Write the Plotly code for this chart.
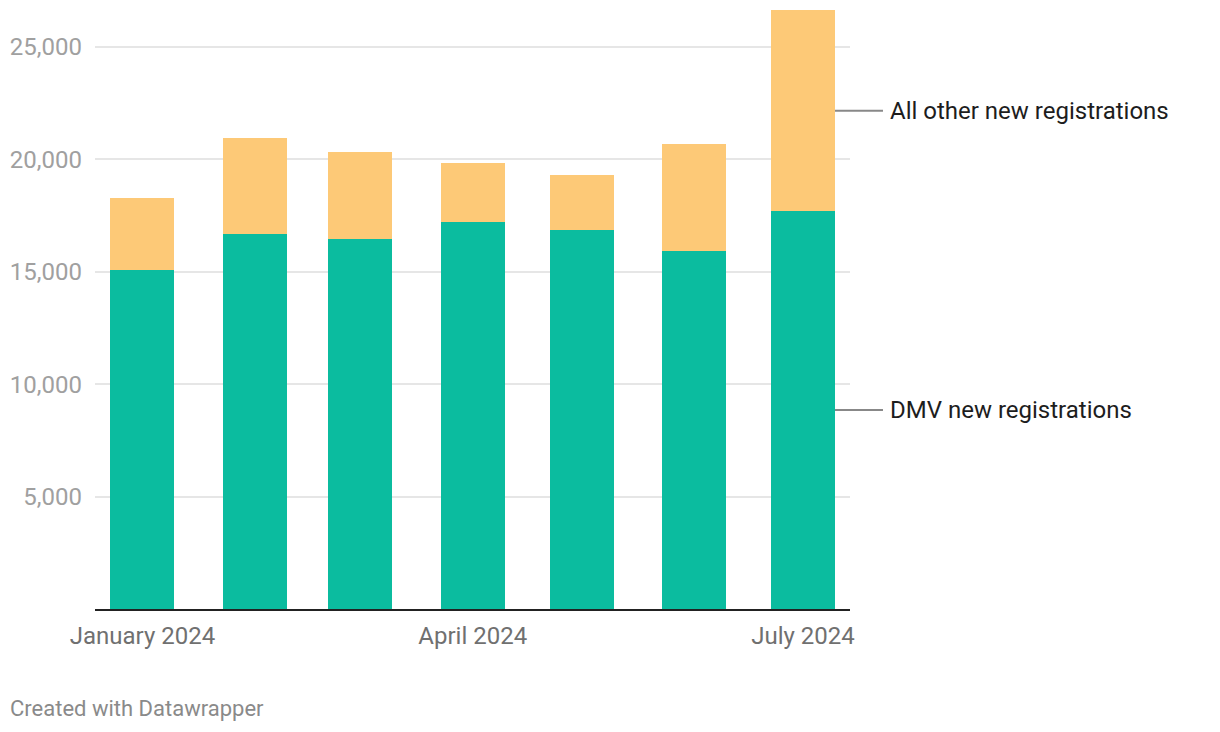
import plotly.graph_objects as go
import pandas as pd

months = ["2024-01-01", "2024-02-01", "2024-03-01", "2024-04-01",
          "2024-05-01", "2024-06-01", "2024-07-01"]
dmv = [15080, 16680, 16450, 17210, 16850, 15920, 17700]
other = [3200, 4260, 3870, 2620, 2450, 4760, 8930]
series_names = ["DMV new registrations", "All other new registrations"]
tick_dates = ["2024-01-01", "2024-04-01", "2024-07-01"]
tick_text = ["January 2024", "April 2024", "July 2024"]
y_ticks = [5000, 10000, 15000, 20000, 25000]

TEAL = "#0bbc9f"
ORANGE = "#fdc977"

# the page body adds an 8px margin, so the figure is placed at (8, 8)
W, H = 1212, 724
ML, MR, MT, MB = 87, 370, 0, 123
PW = W - ML - MR
PH = H - MT - MB

x_start = pd.Timestamp("2023-12-18 22:00")
x_end = pd.Timestamp("2024-07-13 23:00")
bar_w_ms = 17.64 * 86400000
ymax = 26731

fig = go.Figure()
fig.add_trace(go.Bar(x=months, y=dmv, name=series_names[0], marker_color=TEAL,
                     width=bar_w_ms, marker_line_width=0))
fig.add_trace(go.Bar(x=months, y=other, name=series_names[1], marker_color=ORANGE,
                     width=bar_w_ms, marker_line_width=0))

def xfrac(ts):
    return (ts - x_start) / (x_end - x_start)

last = pd.Timestamp(months[-1])
bar_right = xfrac(last + pd.Timedelta(milliseconds=bar_w_ms / 2))
line_len = 48 / PW
mids = [dmv[-1] / 2, dmv[-1] + other[-1] / 2]
for name, m in zip(series_names, mids):
    yf = m / ymax
    fig.add_shape(type="line", xref="paper", yref="paper",
                  x0=bar_right, x1=bar_right + line_len, y0=yf, y1=yf,
                  line=dict(color="#888888", width=2))
    fig.add_annotation(xref="paper", yref="paper", x=bar_right + line_len, y=yf,
                       xanchor="left", yanchor="middle", xshift=5, showarrow=False,
                       text=name, font=dict(family="Roboto", size=24, color="#1d1d1d"))

fig.add_annotation(xref="paper", yref="paper", x=(0 - ML) / PW, y=-(700 - (MT + PH)) / PH,
                   xanchor="left", yanchor="middle", showarrow=False,
                   text="Created with Datawrapper",
                   font=dict(family="Roboto", size=22, color="#8a8a8a"))

fig.update_layout(
    width=W, height=H, barmode="stack", showlegend=False,
    margin=dict(l=ML, r=MR, t=MT, b=MB, pad=0),
    paper_bgcolor="white", plot_bgcolor="white",
    font=dict(family="Roboto"),
    xaxis=dict(type="date", range=[x_start, x_end], tickvals=tick_dates, ticktext=tick_text,
               showgrid=False, showline=True, linecolor="#222222", linewidth=2,
               ticks="", tickfont=dict(family="Roboto", size=24, color="#707070"),
               ticklabelstandoff=4, zeroline=False),
    yaxis=dict(range=[0, ymax], tickvals=y_ticks, tickformat=",",
               showgrid=True, gridcolor="#e6e6e6", gridwidth=1.5, zeroline=False,
               showline=False, ticks="", ticklabelstandoff=12,
               tickfont=dict(family="Roboto", size=24, color="#a0a0a0")),
)

fig.write_html("out.html")
